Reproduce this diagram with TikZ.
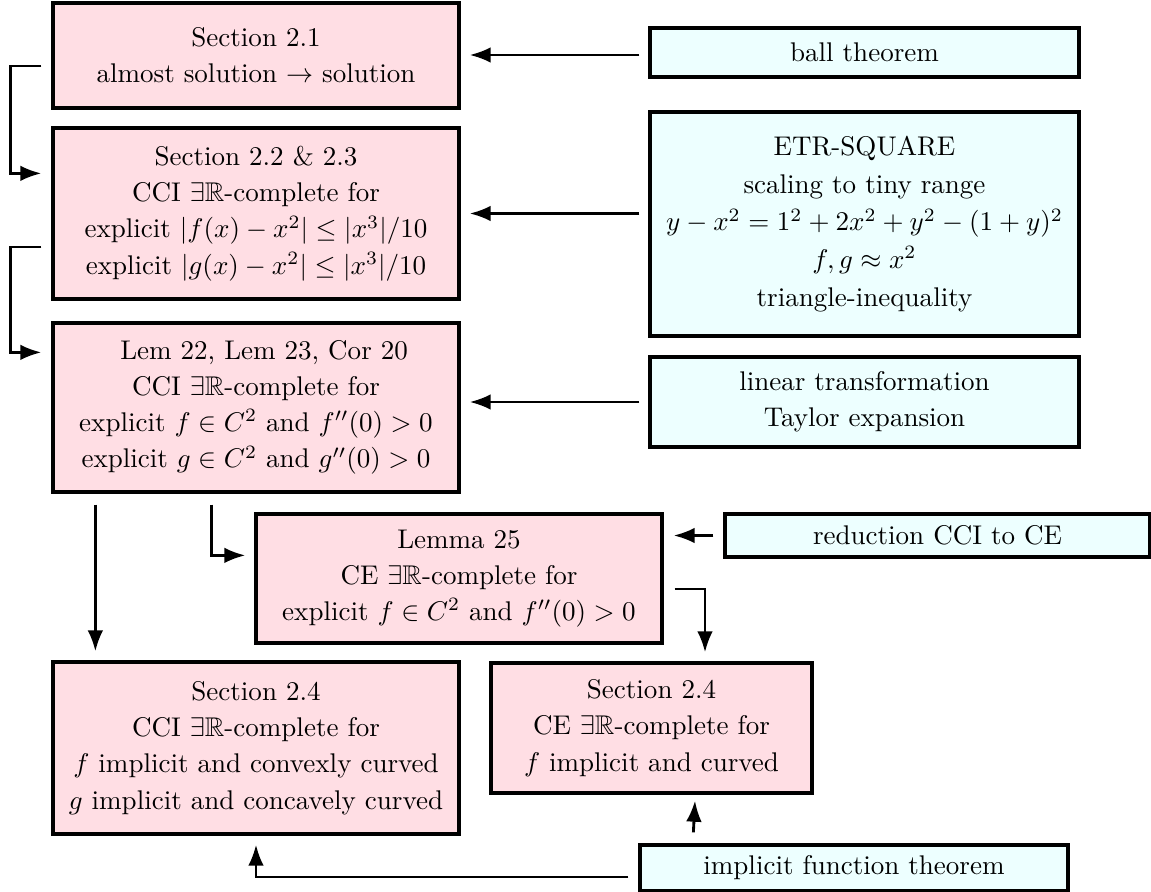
\documentclass[tikz,border=0pt]{standalone}
\usepackage{amssymb}
\usetikzlibrary{arrows.meta,calc}
\definecolor{boxpink}{RGB}{255,222,228}
\definecolor{boxcyan}{RGB}{237,255,255}
\def\pxu{0.37pt}
\tikzset{
  box/.style={draw=black, line width=1.2pt, align=center, inner sep=0pt,
    font=\fontsize{10}{13.4}\selectfont},
  pinkbox/.style={box, fill=boxpink},
  cyanbox/.style={box, fill=boxcyan},
  arr/.style={line width=1.05pt, -{Latex[length=7.8pt,width=5.8pt]}}
}
\begin{document}
\begin{tikzpicture}[x=0.37pt, y=-0.37pt]
\useasboundingbox (0,0) rectangle (1151,892);
% left column
\node[pinkbox, minimum width=406*\pxu, minimum height=105*\pxu] (A) at (256,55.5)
  {Section 2.1\\ almost solution $\to$ solution};
\node[pinkbox, minimum width=406*\pxu, minimum height=171*\pxu] (B) at (256,213.5)
  {Section 2.2 \& 2.3\\ CCI $\exists\mathbb{R}$-complete for\\ explicit $|f(x)-x^2|\le|x^3|/10$\\ explicit $|g(x)-x^2|\le|x^3|/10$};
\node[pinkbox, minimum width=406*\pxu, minimum height=169*\pxu] (C) at (256,407.5)
  {\hspace*{6pt}Lem 22, Lem 23, Cor 20\\ CCI $\exists\mathbb{R}$-complete for\\ explicit $f\in C^2$ and $f''(0)>0$\\ explicit $g\in C^2$ and $g''(0)>0$};
\node[pinkbox, minimum width=406*\pxu, minimum height=129*\pxu] (D) at (459,578.5)
  {Lemma 25\\ CE $\exists\mathbb{R}$-complete for\\ explicit $f\in C^2$ and $f''(0)>0$};
\node[pinkbox, minimum width=406*\pxu, minimum height=172*\pxu] (E) at (256,748)
  {Section 2.4\\ CCI $\exists\mathbb{R}$-complete for\\ $f$ implicit and convexly curved\\ $g$ implicit and concavely curved};
\node[pinkbox, minimum width=321*\pxu, minimum height=130*\pxu] (F) at (651.5,728)
  {Section 2.4\\ CE $\exists\mathbb{R}$-complete for\\ $f$ implicit and curved};
% right column
\node[cyanbox, minimum width=429*\pxu, minimum height=49*\pxu] (R1) at (864.5,52.5)
  {ball theorem};
\node[cyanbox, minimum width=429*\pxu, minimum height=224*\pxu,
      font=\fontsize{10}{14}\selectfont] (R2) at (864.5,224)
  {ETR-SQUARE\\ scaling to tiny range\\ $y-x^2=1^2+2x^2+y^2-(1+y)^2$\\ $f,g\approx x^2$\\ triangle-inequality};
\node[cyanbox, minimum width=429*\pxu, minimum height=90*\pxu] (R3) at (864.5,402)
  {linear transformation\\ Taylor expansion};
\node[cyanbox, minimum width=425*\pxu, minimum height=43*\pxu] (R4) at (937.5,535.5)
  {reduction CCI to CE};
\node[cyanbox, minimum width=428*\pxu, minimum height=46*\pxu] (R5) at (854,868)
  {implicit function theorem};
% connectors
\draw[arr] ($(R1.west)+(-9,2.5)$) -- ($(R1.west -| A.east)+(9,2.5)$);
\draw[arr] ($(R2.west |- B.east)+(-9,0)$) -- ($(B.east)+(9,0)$);
\draw[arr] ($(R3.west)+(-9,0)$) -- ($(R3.west -| C.east)+(9,0)$);
\draw[arr] ($(R4.west)+(-10,0)$) -- ($(R4.west -| D.east)+(10,0)$);
\draw[arr] ($(A.west)+(-10,10.5)$) -- ++(-31,0) |- ($(B.north west)+(-10,47)$);
\draw[arr] ($(B.west)+(-10,33.5)$) -- ++(-31,0) |- ($(C.north west)+(-10,31)$);
\draw[arr] ($(C.south west)+(44,11)$) -- ($(E.north west)+(44,-9)$);
\draw[arr] ($(C.south west)+(160,11)$) |- ($(D.north west)+(-9,43)$);
\draw[arr] ($(D.east)+(11,10.5)$) -| ($(F.north)+(53.5,-9)$);
\draw[arr] ($(R5.north west)+(55,-11)$) -- ($(F.south)+(43.5,6)$);
\draw[arr] ($(R5.west)+(-10,9)$) -| ($(E.south)+(0,9)$);
\end{tikzpicture}
\end{document}
